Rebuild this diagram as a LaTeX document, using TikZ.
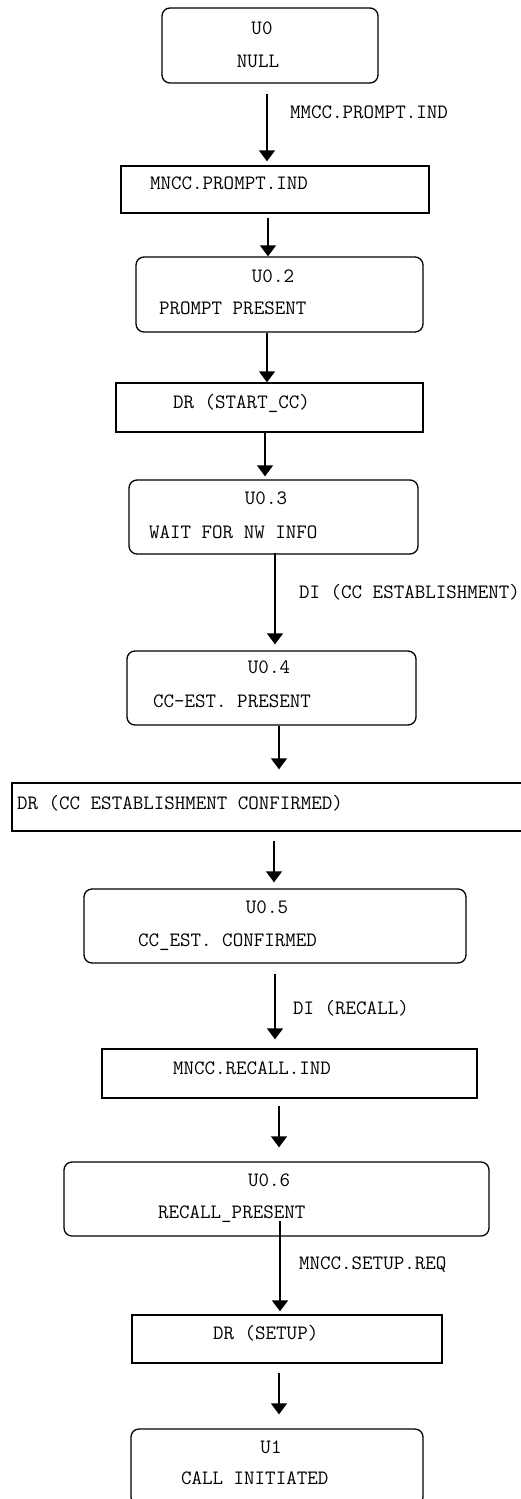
\documentclass[tikz,border=0pt]{standalone}
\usetikzlibrary{arrows.meta}
\begin{document}
\begin{tikzpicture}[x=1pt, y=-1pt,
  state/.style={rectangle, rounded corners=8pt, draw=black, line width=1.3pt, inner sep=0pt},
  prim/.style={rectangle, draw=black, line width=1.3pt, inner sep=0pt},
  txt/.style={inner sep=0pt, anchor=base west, font=\fontsize{20.4}{24}\selectfont\ttfamily},
  ctxt/.style={txt, anchor=base},
  flow/.style={-{Triangle[width=16pt,length=11pt]}, line width=1.3pt}]
\useasboundingbox (0,0) rectangle (520,1499);

% Zustaende und Primitive
\node (u0) [state, minimum width=216pt, minimum height=75pt] at (270,45.5) {};
\node (u0id) [ctxt] at (262,34) {U0};
\node (u0name) [ctxt] at (258,67) {NULL};

\node (mprompt) [prim, minimum width=308pt, minimum height=47pt] at (275,189.5) {};
\node (mprompttxt) [txt] at (150,189) {MNCC.PROMPT.IND};

\node (u02) [state, minimum width=287pt, minimum height=75pt] at (279.5,294.5) {};
\node (u02id) [ctxt] at (273,282) {U0.2};
\node (u02name) [txt] at (159,314) {PROMPT PRESENT};

\node (startcc) [prim, minimum width=307pt, minimum height=49pt] at (269.5,407.5) {};
\node (startcctxt) [txt] at (173,408) {DR (START\_CC)};

\node (u03) [state, minimum width=289pt, minimum height=74pt] at (273.5,517) {};
\node (u03id) [ctxt] at (266,504) {U0.3};
\node (u03name) [txt] at (149,538) {WAIT FOR NW INFO};

\node (u04) [state, minimum width=289pt, minimum height=74pt] at (271.5,688) {};
\node (u04id) [ctxt] at (269,673) {U0.4};
\node (u04name) [txt] at (153,707) {CC-EST. PRESENT};

\node (ccconf) [prim, minimum width=518pt, minimum height=48pt] at (271,807) {};
\node (ccconftxt) [txt] at (17,809) {DR (CC ESTABLISHMENT CONFIRMED)};

\node (u05) [state, minimum width=382pt, minimum height=74pt] at (275,926) {};
\node (u05id) [ctxt] at (267,913) {U0.5};
\node (u05name) [txt] at (138,946) {CC\_EST. CONFIRMED};

\node (mrecall) [prim, minimum width=375pt, minimum height=49pt] at (289.5,1073.5) {};
\node (mrecalltxt) [txt] at (173,1074) {MNCC.RECALL.IND};

\node (u06) [state, minimum width=425pt, minimum height=74pt] at (276.5,1199) {};
\node (u06id) [ctxt] at (269,1186) {U0.6};
\node (u06name) [txt] at (158,1218) {RECALL\_PRESENT};

\node (setup) [prim, minimum width=310pt, minimum height=48pt] at (287,1339) {};
\node (setuptxt) [txt] at (213,1339) {DR (SETUP)};

\node (u1) [state, minimum width=292pt, minimum height=76pt] at (277,1467) {};
\node (u1id) [ctxt] at (271,1453) {U1};
\node (u1name) [txt] at (181,1484) {CALL INITIATED};

% Uebergaenge
\draw[flow] ([xshift=-3pt,yshift=-10pt]u0.south) -- ([xshift=-8pt,yshift=4pt]mprompt.north);
\node (lprompt) [txt] at (290,118) {MMCC.PROMPT.IND};
\draw[flow] ([xshift=-7pt,yshift=-4pt]mprompt.south) -- ([xshift=-11.5pt]u02.north);
\draw[flow] ([xshift=-12.5pt]u02.south) -- ([xshift=-2.5pt]startcc.north);
\draw[flow] ([xshift=-4.5pt]startcc.south) -- ([xshift=-8.5pt,yshift=3pt]u03.north);
\draw[flow] ([xshift=1.5pt,yshift=2pt]u03.south) -- ([xshift=3.5pt,yshift=6pt]u04.north);
\node (lccest) [txt] at (299,598) {DI (CC ESTABLISHMENT)};
\draw[flow] ([xshift=7.5pt]u04.south) -- ([xshift=8pt,yshift=13pt]ccconf.north);
\draw[flow] ([xshift=3pt,yshift=-9pt]ccconf.south) -- ([xshift=-1pt,yshift=6pt]u05.north);
\draw[flow] ([yshift=-10pt]u05.south) -- ([xshift=-14.5pt,yshift=9pt]mrecall.north);
\node (lrecall) [txt] at (293,1014) {DI (RECALL)};
\draw[flow] ([xshift=-10.5pt,yshift=-7pt]mrecall.south) -- ([xshift=2.5pt,yshift=14pt]u06.north);
\draw[flow] ([xshift=3.5pt,yshift=16pt]u06.south) -- ([xshift=-7pt,yshift=3pt]setup.north);
\node (lsetup) [txt] at (299,1269) {MNCC.SETUP.REQ};
\draw[flow] ([xshift=-8pt,yshift=-9pt]setup.south) -- ([xshift=2pt,yshift=14pt]u1.north);

\end{tikzpicture}
\end{document}
